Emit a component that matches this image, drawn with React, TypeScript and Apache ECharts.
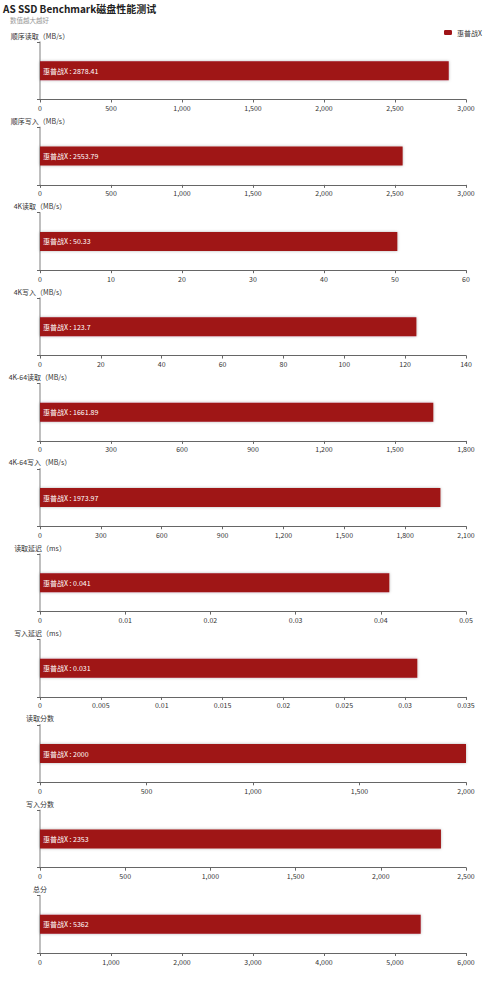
import React, { useEffect, useRef } from "react";
import * as echarts from "echarts";

const seriesName = "惠普战X";
const metricNames = [
  "顺序读取（MB/s）",
  "顺序写入（MB/s）",
  "4K读取（MB/s）",
  "4K写入（MB/s）",
  "4K-64读取（MB/s）",
  "4K-64写入（MB/s）",
  "读取延迟（ms）",
  "写入延迟（ms）",
  "读取分数",
  "写入分数",
  "总分",
];
const values = [2878.41, 2553.79, 50.33, 123.7, 1661.89, 1973.97, 0.041, 0.031, 2000, 2353, 5362];
const axisMax = [3000, 3000, 60, 140, 1800, 2100, 0.05, 0.035, 2000, 2500, 6000];
const axisInterval = [500, 500, 10, 20, 300, 300, 0.01, 0.005, 500, 500, 1000];

const FONT = '"Noto Sans CJK SC", "Noto Sans", sans-serif';

export default function App() {
  const ref = useRef<HTMLDivElement>(null);
  useEffect(() => {
    if (!ref.current) return;
    const chart = echarts.init(ref.current, undefined, { renderer: "svg" });
    const grids: any[] = [];
    const xAxes: any[] = [];
    const yAxes: any[] = [];
    const series: any[] = [];
    metricNames.forEach((name, i) => {
      grids.push({ left: 40, right: 34, top: 42 + i * 85.35, height: 57.5 });
      xAxes.push({
        type: "value",
        gridIndex: i,
        min: 0,
        max: axisMax[i],
        interval: axisInterval[i],
        splitLine: { show: false },
        axisLine: { show: true, lineStyle: { color: "#666", width: 1 } },
        axisTick: { show: true, length: 3, lineStyle: { color: "#666" } },
        axisLabel: { color: "#333", fontSize: 7, margin: 5, fontFamily: FONT },
      });
      yAxes.push({
        type: "category",
        gridIndex: i,
        data: [seriesName],
        name,
        nameGap: 3,
        nameTextStyle: { color: "#333", fontSize: 7, fontFamily: FONT },
        axisLine: { show: true, lineStyle: { color: "#aaa", width: 1.5 } },
        axisTick: { show: true, length: 3, lineStyle: { color: "#666" } },
        axisLabel: { show: false },
        splitLine: { show: false },
      });
      series.push({
        type: "bar",
        name: seriesName,
        xAxisIndex: i,
        yAxisIndex: i,
        data: [values[i]],
        barWidth: 19,
        itemStyle: {
          color: "#9f1418",
          shadowColor: "rgba(0,0,0,0.3)",
          shadowBlur: 3,
        },
        label: {
          show: true,
          position: "insideLeft",
          distance: 3,
          formatter: "{a} : {c}",
          color: "#fff",
          fontSize: 7,
          fontFamily: FONT,
        },
      });
    });
    chart.setOption({
      animation: false,
      textStyle: { fontFamily: FONT },
      title: [
        {
          text: "AS SSD Benchmark磁盘性能测试",
          left: 3,
          top: 3,
          padding: 0,
          textStyle: { fontSize: 10, fontWeight: "bold", color: "#222", fontFamily: FONT },
        },
        {
          text: "数值越大越好",
          left: 10,
          top: 17,
          padding: 0,
          textStyle: { fontSize: 6.5, fontWeight: "normal", color: "#999", fontFamily: FONT },
        },
      ],
      legend: {
        right: 18,
        top: 29,
        padding: 0,
        itemWidth: 8,
        itemHeight: 5,
        itemGap: 4,
        data: [seriesName],
        textStyle: { fontSize: 7, color: "#333", fontFamily: FONT },
      },
      grid: grids,
      xAxis: xAxes,
      yAxis: yAxes,
      series,
    });
    return () => chart.dispose();
  }, []);
  return (
    <div
      ref={ref}
      style={{ position: "fixed", left: 0, top: 0, width: 500, height: 988, background: "#fff" }}
    />
  );
}
